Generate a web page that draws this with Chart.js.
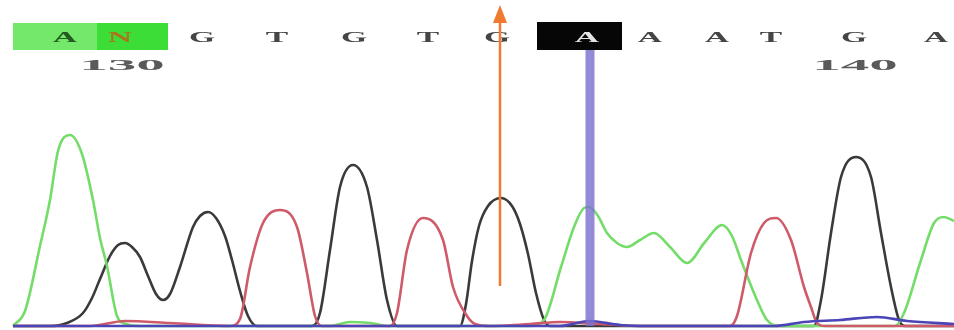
<!DOCTYPE html>
<html>
<head>
<meta charset="utf-8">
<script src="https://cdn.jsdelivr.net/npm/chart.js@4"></script>
<style>
  html, body { margin: 0; padding: 0; background: #fff; }
  #trace { display: block; }
</style>
</head>
<body>
<canvas id="trace" width="954" height="330"></canvas>
<script>
// base calls along the top, with their scan positions
const baseCalls = ["A", "N", "G", "T", "G", "T", "G", "A", "A", "A", "T", "G", "A"];
const basePos = [65, 120, 202, 277, 354, 428, 497, 587, 650, 717, 771, 854, 936];
const positionLabels = ["130", "140"];
const positionX = [122, 855];
const selectedBase = 7;   // index of the boxed call
const arrowX = 500;

// peak traces: [scan, signal]
const traceA = [[13, 0], [25, 15], [40, 80], [50, 126], [58, 175], [70, 191], [82, 172], [93, 126], [100, 88], [107, 60], [117, 10], [126, 2], [140, 0],
  [330, 0], [350, 4], [370, 3], [390, 0], [530, 0], [544, 6], [561, 59], [574, 99], [584, 118], [589, 119], [598, 110], [607, 93], [617, 83],
  [627, 79], [640, 86], [654, 93], [670, 79], [687, 63], [705, 84], [722, 101], [732, 90], [741, 66], [757, 26], [767, 6], [780, 0],
  [895, 0], [904, 13], [921, 66], [934, 103], [944, 109], [954, 105]];
const traceG = [[13, 0], [50, 0], [67, 3], [83, 13], [92, 28], [100, 47], [110, 70], [118, 81], [125, 83], [132, 79], [140, 69],
  [148, 50], [156, 32], [163, 26], [170, 32], [180, 59], [193, 99], [200, 110], [208, 114], [216, 108], [225, 90], [232, 66],
  [240, 35], [248, 10], [257, 0], [312, 0], [320, 13], [330, 76], [340, 139], [353, 161], [367, 139], [377, 86], [387, 26], [397, 0],
  [460, 0], [466, 22], [472, 65], [479, 100], [488, 120], [501, 128], [512, 120], [520, 102], [528, 72], [536, 33], [544, 6], [550, 0],
  [814, 0], [821, 26], [831, 93], [841, 149], [856, 169], [871, 149], [881, 93], [891, 39], [899, 6], [905, 0], [954, 0]];
const traceT = [[13, 0], [90, 0], [125, 5], [170, 3], [230, 0], [240, 7], [250, 59], [263, 103], [280, 116], [297, 99], [307, 53],
  [315, 10], [322, 0], [390, 0], [397, 13], [407, 76], [423, 108], [443, 86], [453, 39], [467, 10], [475, 2], [490, 0], [530, 2],
  [560, 4], [600, 2], [640, 0], [730, 0], [737, 10], [751, 73], [764, 103], [776, 108], [791, 86], [804, 39], [811, 19], [817, 3],
  [825, 0], [954, 0]];
const traceC = [[13, 0], [560, 0], [589, 5], [620, 1], [640, 0], [774, 0], [804, 4], [840, 6], [877, 9], [907, 5], [954, 2]];

const traceColors = { A: "#74dc68", G: "#3a3a3a", T: "#cf5a6a", C: "#4b45b8" };

function toPoints(trace) {
  return trace.map(p => ({ x: p[0], y: p[1] }));
}

function drawSquat(ctx, text, x, y, color, size, sx, sy) {
  ctx.save();
  ctx.translate(x, y);
  ctx.scale(sx, sy);
  ctx.fillStyle = color;
  ctx.textAlign = "center";
  ctx.textBaseline = "middle";
  ctx.font = 'bold ' + size + 'px "Liberation Serif"';
  ctx.fillText(text, 0, 0);
  ctx.restore();
}

const overlay = {
  id: "overlay",
  beforeDatasetsDraw(chart) {
    const ctx = chart.ctx;
    const xs = chart.scales.x;
    // green highlight behind the first two calls
    ctx.fillStyle = "#74e86a";
    ctx.fillRect(xs.getPixelForValue(13), 23, xs.getPixelForValue(97) - xs.getPixelForValue(13), 27);
    ctx.fillStyle = "#3ddd37";
    ctx.fillRect(xs.getPixelForValue(97), 23, xs.getPixelForValue(168) - xs.getPixelForValue(97), 27);
    // black box around the selected call
    ctx.fillStyle = "#060606";
    ctx.fillRect(xs.getPixelForValue(537), 22, xs.getPixelForValue(622) - xs.getPixelForValue(537), 28);

    for (let i = 0; i < baseCalls.length; i++) {
      let color = "#454545";
      if (i === 0) color = "#245a20";
      if (i === 1) color = "#a8741c";
      if (i === selectedBase) color = "#e4e4e4";
      drawSquat(ctx, baseCalls[i], xs.getPixelForValue(basePos[i]), 38, color, 16, 2.1, 0.85);
    }
    for (let i = 0; i < positionLabels.length; i++) {
      drawSquat(ctx, positionLabels[i], xs.getPixelForValue(positionX[i]), 66, "#5a5a5a", 15, 3.8, 1.0);
    }
  },
  afterDatasetsDraw(chart) {
    const ctx = chart.ctx;
    const xs = chart.scales.x;
    const ys = chart.scales.y;
    // cursor line under the selected call
    const cx = xs.getPixelForValue(basePos[selectedBase] + 3);
    ctx.fillStyle = "rgba(125, 114, 208, 0.82)";
    ctx.fillRect(cx - 4.5, 50, 9, ys.getPixelForValue(0) - 50);

    // orange arrow
    const ax = xs.getPixelForValue(arrowX);
    ctx.strokeStyle = "#ef7a30";
    ctx.lineWidth = 2.5;
    ctx.beginPath();
    ctx.moveTo(ax, 286);
    ctx.lineTo(ax, 20);
    ctx.stroke();
    ctx.fillStyle = "#ef7a30";
    ctx.beginPath();
    ctx.moveTo(ax, 5);
    ctx.lineTo(ax - 7, 23);
    ctx.lineTo(ax + 7, 23);
    ctx.closePath();
    ctx.fill();
  }
};

function traceSet(label, trace, color) {
  return {
    label: label,
    data: toPoints(trace),
    borderColor: color,
    borderWidth: 2.6,
    pointRadius: 0,
    fill: false,
    cubicInterpolationMode: "monotone"
  };
}

new Chart(document.getElementById("trace"), {
  type: "line",
  data: {
    datasets: [
      traceSet("C", traceC, traceColors.C),
      traceSet("T", traceT, traceColors.T),
      traceSet("A", traceA, traceColors.A),
      traceSet("G", traceG, traceColors.G)
    ]
  },
  options: {
    responsive: false,
    animation: false,
    devicePixelRatio: 1,
    layout: { padding: 0 },
    scales: {
      x: { type: "linear", min: 0, max: 954, display: false },
      y: { min: -4, max: 326, display: false }
    },
    plugins: {
      legend: { display: false },
      tooltip: { enabled: false }
    }
  },
  plugins: [overlay]
});
</script>
</body>
</html>
